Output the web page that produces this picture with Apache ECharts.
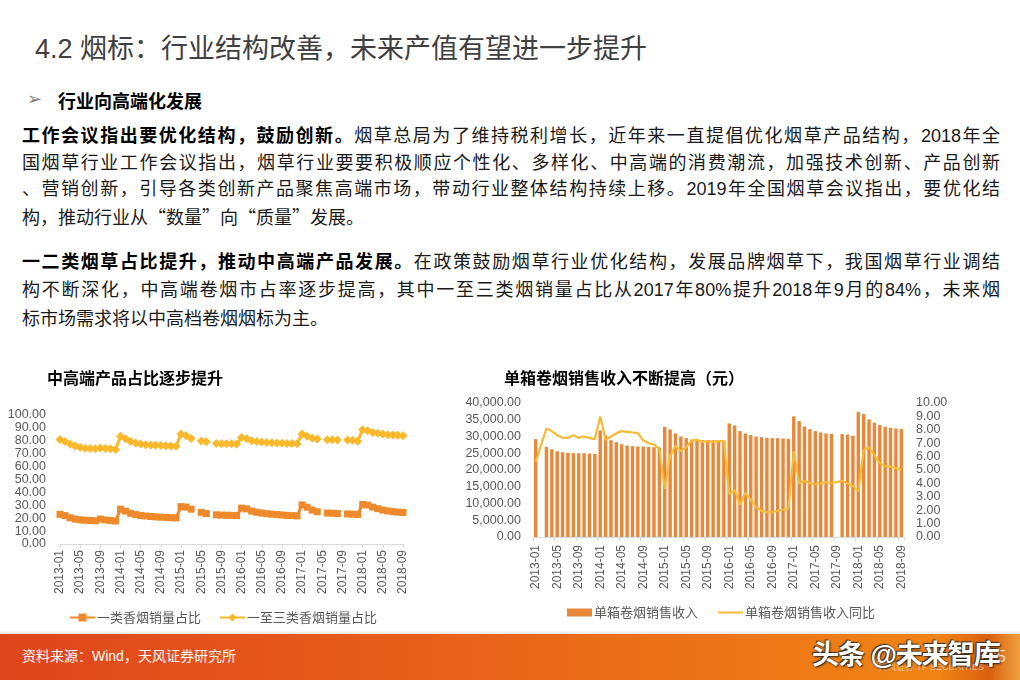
<!DOCTYPE html>
<html>
<head>
<meta charset="utf-8">
<script src="https://cdn.jsdelivr.net/npm/echarts@6/dist/echarts.min.js"></script>
<style>
  html, body { margin: 0; padding: 0; background: #fff; }
  #page { position: relative; width: 1020px; height: 680px; overflow: hidden;
          font-family: "Liberation Sans", "Noto Sans CJK SC", sans-serif; }
  .title { position: absolute; left: 35px; top: 27px; font-size: 27px; color: #404040;
           font-family: "Liberation Sans", "Noto Sans CJK SC", sans-serif; white-space: nowrap; }
  .bullet { position: absolute; left: 27px; top: 88px; font-size: 18px; color: #7f7f7f; }
  .sub { position: absolute; left: 58px; top: 87px; font-size: 18px; font-weight: bold; color: #000; white-space: nowrap; }
  .ln { position: absolute; left: 22px; width: 978px; font-size: 18px; line-height: 24px; color: #1a1a1a;
        white-space: nowrap; text-align: justify; text-align-last: justify; }
  .ln.last { text-align-last: left; }
  .ln b { color: #000; }
  .q { font-family: "Noto Sans CJK SC"; }
  #chart { position: absolute; left: 0; top: 0; width: 1020px; height: 680px; }
  .footer { position: absolute; left: 0; top: 634px; width: 1020px; height: 46px;
            background: linear-gradient(90deg, #de451c 0%, #e8621a 45%, #f08414 92%, #d8600e 97%, #f0a040 100%); }
  .footline { position: absolute; left: 0; top: 630px; width: 1020px; height: 4px;
              background: linear-gradient(180deg, #ffffff 0%, #e6e6e6 100%); }
  .src { position: absolute; left: 22px; top: 645px; font-size: 14px; color: #fff; white-space: nowrap; }
  .wm { position: absolute; left: 812px; top: 633px; font-size: 27px; font-weight: bold; color: #fff;
        text-shadow: 1px 1px 2px #222, -1px -1px 1px #333; white-space: nowrap; letter-spacing: -1px; }
  .logo { position: absolute; left: 878px; top: 660px; font-size: 9px; color: rgba(255,255,255,0.55); }
  .pnum { position: absolute; left: 988px; top: 648px; font-size: 16px; color: rgba(255,255,255,0.75); }
</style>
</head>
<body>
<div id="page">
  <div class="title">4.2 烟标：行业结构改善，未来产值有望进一步提升</div>
  <div class="bullet">&#10146;</div>
  <div class="sub">行业向高端化发展</div>

  <div class="ln" style="top:124px"><b>工作会议指出要优化结构，鼓励创新。</b>烟草总局为了维持税利增长，近年来一直提倡优化烟草产品结构，2018年全</div>
  <div class="ln" style="top:151px">国烟草行业工作会议指出，烟草行业要要积极顺应个性化、多样化、中高端的消费潮流，加强技术创新、产品创新</div>
  <div class="ln" style="top:177px">、营销创新，引导各类创新产品聚焦高端市场，带动行业整体结构持续上移。2019年全国烟草会议指出，要优化结</div>
  <div class="ln last" style="top:204px">构，推动行业从<span class="q">“</span>数量<span class="q">”</span>向<span class="q">“</span>质量<span class="q">”</span>发展。</div>

  <div class="ln" style="top:250px"><b>一二类烟草占比提升，推动中高端产品发展。</b>在政策鼓励烟草行业优化结构，发展品牌烟草下，我国烟草行业调结</div>
  <div class="ln" style="top:278px">构不断深化，中高端卷烟市占率逐步提高，其中一至三类烟销量占比从2017年80%提升2018年9月的84%，未来烟</div>
  <div class="ln last" style="top:307px">标市场需求将以中高档卷烟烟标为主。</div>

  <div id="chart"></div>

  <div class="footline"></div>
  <div class="footer"></div>
  <div class="src">资料来源：Wind，天风证券研究所</div>
  <div class="logo">天风证券 TF SECURITIES</div>
  <div class="pnum">35</div>
  <div class="wm">头条 @未来智库</div>
</div>

<script>
// month labels, shared by both charts
var months = [
  '2013-01','2013-02','2013-03','2013-04','2013-05','2013-06','2013-07','2013-08','2013-09','2013-10','2013-11','2013-12',
  '2014-01','2014-02','2014-03','2014-04','2014-05','2014-06','2014-07','2014-08','2014-09','2014-10','2014-11','2014-12',
  '2015-01','2015-02','2015-03','2015-04','2015-05','2015-06','2015-07','2015-08','2015-09','2015-10','2015-11','2015-12',
  '2016-01','2016-02','2016-03','2016-04','2016-05','2016-06','2016-07','2016-08','2016-09','2016-10','2016-11','2016-12',
  '2017-01','2017-02','2017-03','2017-04','2017-05','2017-06','2017-07','2017-08','2017-09','2017-10','2017-11','2017-12',
  '2018-01','2018-02','2018-03','2018-04','2018-05','2018-06','2018-07','2018-08','2018-09'
];

// 一类香烟销量占比 (%)
var tier1Share = [
  23.0, 22.0, 20.3, 19.3, 18.8, 18.4, 18.2, 18.0, 19.3, 18.6, 18.2, 17.8,
  27.0, 25.5, 23.8, 22.8, 22.1, 21.7, 21.3, 21.0, 20.8, 20.6, 20.4, 20.2,
  29.0, 28.6, 27.0, null, 24.5, 23.6, null, 22.6, 22.4, 22.3, 22.2, 22.0,
  27.8, 27.2, 25.5, 24.6, 24.0, 23.5, 23.1, 22.8, 22.5, 22.2, 22.0, 21.8,
  30.3, 28.5, 26.3, 25.0, null, 24.0, 23.8, 23.6, null, 23.3, 23.1, 22.9,
  30.6, 30.2, 28.6, 27.4, 26.3, 25.6, 25.1, 24.7, 24.4
];

// 一至三类香烟销量占比 (%)
var tier13Share = [
  81.0, 79.5, 77.5, 76.0, 75.0, 74.3, 74.0, 73.8, 74.5, 74.0, 73.8, 73.3,
  83.5, 81.5, 79.5, 78.3, 77.5, 77.0, 76.7, 76.5, 76.3, 76.2, 76.0, 75.8,
  85.3, 84.0, 81.8, null, 79.8, 79.2, null, 78.0, 77.8, 77.8, 77.7, 77.6,
  82.5, 81.8, 80.0, 79.4, 79.0, 78.7, 78.5, 78.3, 78.1, 78.0, 78.0, 77.8,
  85.3, 83.5, 82.0, 81.4, null, 80.8, 80.8, 80.7, null, 80.6, 80.5, 79.6,
  88.5, 87.8, 86.5, 85.8, 85.2, 84.7, 84.5, 84.3, 84.0
];

// 单箱卷烟销售收入 (元)
var revenuePerCase = [
  29200, null, 26900, 26200, 25600, 25300, 25100, 25000, 25000, 25000, 24900, 24800,
  31800, 30300, 28900, 28300, 27700, 27300, 27100, 27000, 27000, 26900, 26800, 26700,
  32900, 32100, 30900, 30000, 29500, 29100, 28900, 28900, 28900, 28900, 28800, 28800,
  33900, 33300, 31600, 30900, 30400, 30000, 29800, 29600, 29500, 29500, 29400, 29300,
  36000, 34600, 33000, 32200, 31600, 31200, 30900, 30800, null, 30700, 30600, 30200,
  37300, 36700, 35100, 34100, 33400, 32900, 32600, 32400, 32200
];

// 单箱卷烟销售收入同比 (%)
var revenueYoy = [
  5.6, null, 8.1, 7.9, 7.6, 7.4, 7.4, 7.6, 7.4, 7.5, 7.4, 7.3,
  9.0, 7.25, 7.5, 7.75, 7.9, 7.85, 7.8, 7.75, 7.2, 7.0, 6.9, 6.6,
  3.6, 6.0, 6.8, 6.4, 6.7, 7.2, 7.25, 7.1, 7.15, 7.1, 7.15, 7.15,
  3.2, 3.5, 2.4, 3.3, 2.8, 2.25, 1.95, 1.85, 1.85, 1.95, 2.05, 2.1,
  6.4, 4.0, 4.2, 4.0, 3.95, 4.0, 4.1, 4.05, 4.1, 4.2, 4.0, 3.8,
  3.4, 6.5, 6.7, 6.1, 5.5, 5.3, 5.25, 5.15, 5.0
];

var axisGray = '#595959';
var numFont = 'Liberation Sans';

function thousands(v) {
  var s = Math.round(v).toString().replace(/\B(?=(\d{3})+(?!\d))/g, ',');
  return s + '.00';
}

var catAxis = function (gridIndex, margin) {
  return {
    type: 'category',
    gridIndex: gridIndex,
    data: months,
    boundaryGap: gridIndex === 1,
    axisLine: { lineStyle: { color: '#d9d9d9', width: 1 } },
    axisTick: { show: true, interval: 3, length: 4, lineStyle: { color: '#d9d9d9' } },
    axisLabel: { interval: 3, rotate: 90, margin: margin, color: axisGray,
                 fontSize: 12, fontFamily: numFont }
  };
};

var chart = echarts.init(document.getElementById('chart'));
chart.setOption({
  animation: false,
  textStyle: { fontFamily: 'Liberation Sans, Noto Sans CJK SC' },
  title: [
    { text: '中高端产品占比逐步提升', left: 42, top: 365,
      textStyle: { fontSize: 16, fontWeight: 'bold', color: '#000', fontFamily: 'Noto Sans CJK SC' } },
    { text: '单箱卷烟销售收入不断提高（元）', left: 499, top: 365,
      textStyle: { fontSize: 16, fontWeight: 'bold', color: '#000', fontFamily: 'Noto Sans CJK SC' } }
  ],
  legend: [
    { data: ['一类香烟销量占比', '一至三类香烟销量占比'], left: 64, top: 606, itemGap: 18,
      itemWidth: 25, itemHeight: 10,
      textStyle: { fontSize: 13, color: axisGray, fontFamily: 'Noto Sans CJK SC', padding: [0, 0, 0, -3] } },
    { data: [
        { name: '单箱卷烟销售收入', icon: 'rect' },
        { name: '单箱卷烟销售收入同比', icon: 'path://M0,0 L50,0 L50,4 L0,4 Z' }
      ], left: 562, top: 601, itemGap: 20,
      itemWidth: 25, itemHeight: 8,
      textStyle: { fontSize: 13, color: axisGray, fontFamily: 'Noto Sans CJK SC', padding: [0, 0, 0, -3] } }
  ],
  grid: [
    { left: 60, right: 617, top: 415, bottom: 136 },
    { left: 533, right: 116, top: 403, bottom: 143 }
  ],
  xAxis: [catAxis(0, 6), catAxis(1, 8)],
  yAxis: [
    { type: 'value', gridIndex: 0, min: 0, max: 100, interval: 10,
      splitLine: { show: false }, axisLine: { show: false }, axisTick: { show: false },
      axisLabel: { margin: 14, color: axisGray, fontSize: 12.5, fontFamily: numFont,
                   formatter: function (v) { return v.toFixed(2); } } },
    { type: 'value', gridIndex: 1, min: 0, max: 40000, interval: 5000,
      splitLine: { show: false }, axisLine: { show: false }, axisTick: { show: false },
      axisLabel: { margin: 12, color: axisGray, fontSize: 12.5, fontFamily: numFont,
                   formatter: thousands } },
    { type: 'value', gridIndex: 1, position: 'right', min: 0, max: 10, interval: 1,
      splitLine: { show: false }, axisLine: { show: false }, axisTick: { show: false },
      axisLabel: { margin: 12, color: axisGray, fontSize: 12.5, fontFamily: numFont,
                   formatter: function (v) { return v.toFixed(2); } } }
  ],
  series: [
    { name: '一类香烟销量占比', type: 'line', xAxisIndex: 0, yAxisIndex: 0,
      data: tier1Share, symbol: 'rect', symbolSize: 7, showAllSymbol: true,
      itemStyle: { color: '#ef8a2c' }, lineStyle: { color: '#ef8a2c', width: 3 } },
    { name: '一至三类香烟销量占比', type: 'line', xAxisIndex: 0, yAxisIndex: 0,
      data: tier13Share, symbol: 'diamond', symbolSize: 9, showAllSymbol: true,
      itemStyle: { color: '#fbb82b' }, lineStyle: { color: '#fbb82b', width: 3 } },
    { name: '单箱卷烟销售收入', type: 'bar', xAxisIndex: 1, yAxisIndex: 1,
      data: revenuePerCase, barCategoryGap: '36%',
      itemStyle: { color: '#e8883a' } },
    { name: '单箱卷烟销售收入同比', type: 'line', xAxisIndex: 1, yAxisIndex: 2,
      data: revenueYoy, connectNulls: true, symbol: 'none',
      itemStyle: { color: '#f7ba36' }, lineStyle: { color: '#f7ba36', width: 2.2 } }
  ]
});
</script>
</body>
</html>
